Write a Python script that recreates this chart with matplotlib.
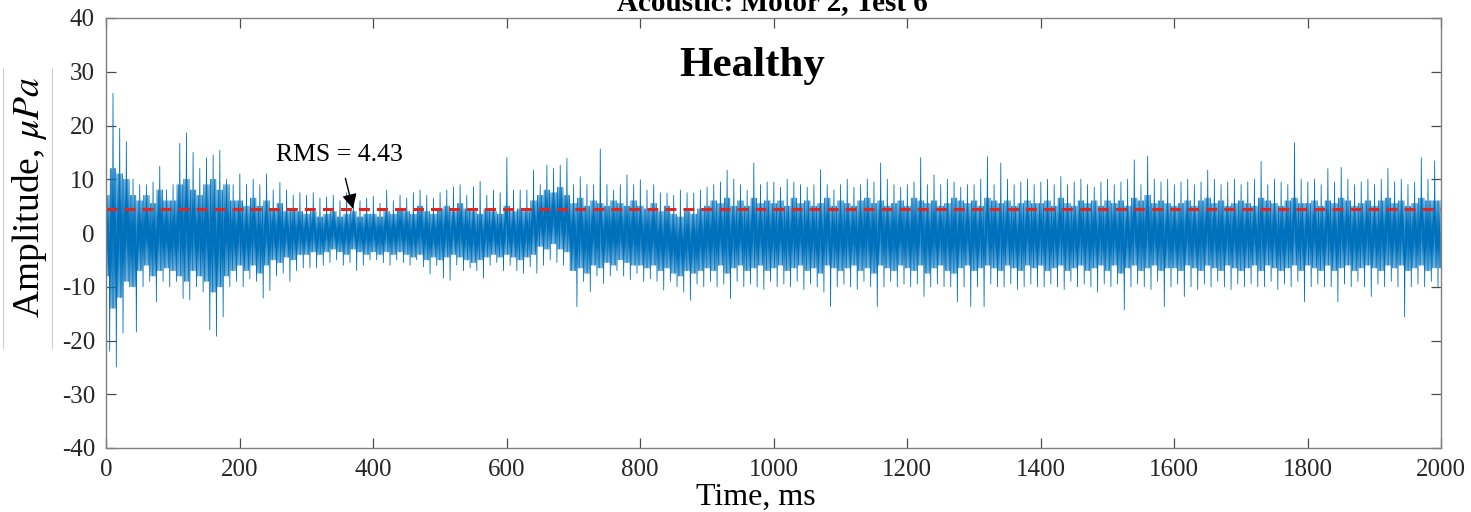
"""Acoustic signal, motor 2 test 6 (healthy) - amplitude vs time with RMS line."""
import matplotlib

matplotlib.use("Agg")
import matplotlib.pyplot as plt
from matplotlib.lines import Line2D

plt.rcParams["font.family"] = ["Liberation Serif", "DejaVu Serif"]
plt.rcParams["mathtext.fontset"] = "stix"
plt.rcParams["axes.unicode_minus"] = False

BIN_MS = 10
RMS = 4.43

# upper / lower peaks of the trace in each 10 ms bin
PEAK_HI = [
    11, 26, 19.5, 17, 10, 9, 9, 9.5, 12.4, 8,
    9, 16.7, 18.6, 15, 12, 14, 14.5, 15.4, 10, 9,
    11, 9, 10, 9, 11, 8, 9.4, 8, 7, 7.5,
    7, 7.5, 6.5, 6.7, 7, 6, 7.5, 6.5, 6, 6.5,
    6.8, 5.5, 8, 6, 7, 6.5, 7.5, 8, 7, 6.5,
    7.5, 8, 8.6, 9, 7, 8.6, 9.6, 7, 8, 7.5,
    14, 8, 8, 8, 11.7, 9, 12.6, 12, 12.6, 13.9,
    9, 10.5, 9, 9, 15.6, 9, 8, 9, 10.8, 9,
    9.9, 8, 9, 7.5, 7.4, 7, 8, 7.5, 7.4, 8,
    8.5, 9, 9.5, 11.7, 10, 9, 8, 13, 9, 9.5,
    9.5, 8.5, 10, 9.5, 9, 8.5, 9, 11.8, 9, 8,
    9, 10, 8.5, 9, 10, 9.5, 13, 10, 9, 8.5,
    9, 9.5, 14, 9, 10.8, 9, 10, 9.5, 8.5, 9,
    9, 10, 14.2, 9, 13, 10, 9, 9.5, 10, 9,
    9.5, 10, 9, 10.5, 9, 9.5, 10, 9, 8.5, 9.5,
    10, 9, 9.5, 10, 13.6, 9, 14.3, 10, 9.5, 10,
    9, 9.5, 10, 9, 9.5, 11.7, 10, 9, 9.5, 10,
    9, 9.5, 10, 13.3, 9, 10, 9.5, 9, 16.8, 10,
    9.5, 10, 9, 12, 9.5, 12.2, 10, 9, 9.5, 10,
    9, 10, 12, 9.5, 10, 9, 9.5, 14, 10, 13.4,
]
PEAK_LO = [
    -22, -24.9, -18.6, -10, -18.4, -10, -9, -12.8, -9, -10,
    -9, -12.2, -12.4, -10, -11, -18, -19.2, -15.6, -10, -9,
    -10, -8.5, -9, -12.1, -10.7, -8, -7.5, -9, -7, -6.5,
    -6.5, -6.5, -6, -5.5, -5, -6, -5.5, -7, -6, -5,
    -5, -5.5, -6, -5, -5.5, -6, -5, -6.3, -7.6, -6,
    -8.4, -8.8, -6, -7, -6.5, -7, -8.4, -6, -5.5, -7,
    -6, -7, -7.5, -6.3, -7.5, -6, -5, -5.5, -6, -7,
    -13.7, -9, -10.9, -8, -9.4, -8, -7, -8, -8.7, -7.5,
    -9, -8.5, -9, -10.6, -9, -10, -11, -12.5, -9.5, -10,
    -9, -10, -9.5, -12.2, -9, -10, -9.5, -10, -10.5, -9,
    -10, -9.5, -10, -9, -10.5, -9.5, -10, -11, -13.7, -10,
    -9.5, -10, -10.5, -9, -10, -13.7, -10, -9, -10, -9.5,
    -10, -9.5, -11.8, -10, -9.5, -10, -10, -12.8, -10, -13.7,
    -10, -13.7, -9.5, -10, -10, -9.5, -10.5, -10, -9.5, -10,
    -10, -9.5, -10, -10.5, -9, -10, -9.5, -10, -11, -9.5,
    -10, -9.5, -14.3, -10, -9.5, -10, -10.5, -9, -13.7, -10,
    -9.5, -11.8, -10, -10.5, -9.5, -10, -9, -10, -10.5, -9.5,
    -10, -9.5, -10, -10, -9, -10.5, -9.5, -10, -9, -12.8,
    -10, -9.5, -10, -10, -12.8, -9.5, -10, -9, -10, -11.8,
    -9.5, -10, -9, -10, -15.6, -10, -9.5, -10, -9, -10,
]
# edges of the dense (solid) core of the trace, per 10 ms bin
CORE_HI = [
    7, 12, 11, 10, 7, 6, 7, 5.5, 8, 6,
    6, 9, 10, 8, 7, 9, 10, 8, 9, 6,
    6, 5, 6.5, 5, 6, 4.5, 5.5, 4, 4.5, 4,
    3.5, 4, 3, 3.5, 4, 3, 3.5, 4, 3, 3.5,
    3.5, 3, 4, 3.5, 4.5, 4, 3.5, 5, 4, 3.5,
    4.5, 5, 4, 5.5, 4.5, 4, 3.5, 4.5, 4, 3.5,
    5, 4, 4.5, 4, 6, 7, 8, 7.5, 8.5, 7,
    5.5, 6.5, 5, 6, 5.5, 5, 6, 5.5, 5, 6,
    5, 4.5, 5.5, 4, 5, 3.5, 3, 4, 3.5, 4.5,
    5, 6, 5.5, 6.5, 5, 6, 5, 6.5, 5.5, 6,
    5.5, 6, 5, 6.5, 5.5, 6, 5, 5.5, 6.5, 5,
    6, 5.5, 5, 6, 6.5, 5.5, 6, 5, 5.5, 6,
    5, 6.5, 6, 5.5, 6, 5, 5.5, 6.5, 6, 5.5,
    6, 5, 6.5, 6, 5.5, 6, 5, 5.5, 6, 5.5,
    5.5, 6, 5, 6.5, 5.5, 5, 6, 5.5, 6, 5,
    6, 5.5, 6, 5, 6.5, 6, 7, 5.5, 6, 5.5,
    5, 5.5, 6, 5, 6, 6.5, 5.5, 6, 5, 5.5,
    6, 5.5, 5, 6.5, 6, 5.5, 5, 6, 6.5, 5.5,
    5.5, 6, 5, 6, 5.5, 6.5, 6, 5, 5.5, 6,
    5, 6, 6.5, 5.5, 6, 5, 5.5, 6.5, 6, 6,
]
CORE_LO = [
    -8, -14, -12, -9, -10, -7, -6, -8, -7, -6.5,
    -7, -8, -9, -7, -8, -9, -11, -10, -8, -7,
    -6, -7, -6, -7.5, -6, -5, -5.5, -4.5, -5, -4,
    -4, -3.5, -4, -3.5, -3, -3.5, -4, -3, -3.5, -4,
    -3.5, -4, -3.5, -4, -3.5, -4, -4.5, -4, -5, -4.5,
    -5, -4.5, -4, -4.5, -5, -5.5, -5, -4.5, -4, -4.5,
    -4, -4.5, -5, -4.5, -4, -2.5, -3, -2, -3, -3.5,
    -7, -6.5, -7.5, -6, -6.5, -5.5, -6, -5, -5.5, -6,
    -6, -6.5, -6, -7, -6.5, -7.5, -8, -7, -7.5, -7,
    -6.5, -7, -6, -7.5, -6.5, -6, -7, -6.5, -6, -7,
    -6.5, -6, -7, -6.5, -6, -7, -6.5, -7.5, -6, -6.5,
    -7, -6.5, -6, -7, -6.5, -7.5, -6, -6.5, -7, -6,
    -6.5, -7, -6, -7.5, -6.5, -6, -7, -7.5, -6.5, -6,
    -7, -6.5, -6, -6.5, -7, -6, -6.5, -7, -6, -6.5,
    -6, -7, -6.5, -6, -7, -6.5, -6, -7, -6.5, -6,
    -7, -6, -7.5, -6.5, -6, -7, -6.5, -6, -7, -6.5,
    -6.5, -7, -6, -6.5, -7, -6, -6.5, -7, -6, -6.5,
    -7, -6.5, -6, -7, -6, -6.5, -7, -6.5, -6, -7,
    -6, -6.5, -7, -6, -7, -6.5, -6, -7, -6.5, -6,
    -6.5, -7, -6, -6.5, -6, -7, -6.5, -6, -7, -6.5,
]

XTICKS = list(range(0, 2001, 200))
YTICKS = list(range(-40, 41, 10))

if __name__ == "__main__":
    n = len(PEAK_HI)
    t, amp = [0.0], [0.0]
    for i in range(n):
        j = min(i + 1, n - 1)
        seq = [PEAK_HI[i], CORE_LO[i], CORE_HI[i], CORE_LO[i], CORE_HI[i],
               PEAK_LO[i], CORE_HI[j], CORE_LO[j], CORE_HI[j], CORE_LO[j]]
        for k, v in enumerate(seq):
            t.append(i * BIN_MS + (k + 0.5) * BIN_MS / len(seq))
            amp.append(v)

    fig = plt.figure(figsize=(14.71, 5.12), dpi=100)
    ax = fig.add_axes([106 / 1471, 1 - 448 / 512, 1335 / 1471, 430 / 512])

    ax.plot(t, amp, color="#0072BD", linewidth=0.6)
    ax.axhline(RMS, color="#E2261E", linewidth=2.2, dashes=(3.6, 2.3))

    ax.set_xlim(0, 2000)
    ax.set_ylim(-40, 40)
    ax.set_xticks(XTICKS)
    ax.set_yticks(YTICKS)
    ax.tick_params(direction="in", length=7, width=0.9, color="#4d4d4d",
                   labelsize=18, labelcolor="#262626", pad=8,
                   top=True, right=True)
    for s in ax.spines.values():
        s.set_color("#808080")
        s.set_linewidth(1.0)

    ax.set_xlabel("Time, ms", fontsize=23, color="black")
    ax.xaxis.set_label_coords(0.487, -0.082)

    fig.text(30 / 1471, 1 - 197 / 512, r"Amplitude, $\mu Pa$", rotation=90,
             ha="center", va="center", fontsize=27)
    # leftover frame of the pasted label box
    for xp in (3, 52):
        fig.add_artist(Line2D([xp / 1471] * 2, [1 - 68 / 512, 1 - 348 / 512],
                              color="#cfcfcf", linewidth=0.8))

    # title sits partly above the top edge, as in the source figure
    fig.text(772 / 1471, 1 - 10 / 512, "Acoustic: Motor 2, Test 6",
             ha="center", va="baseline", fontsize=21, fontweight="bold")

    ax.text((752 - 106) / 1335 * 2000, 31, "Healthy",
            ha="center", va="center", fontsize=31, fontweight="bold")

    ax.annotate("RMS = 4.43", xy=(370, 4.5), xytext=(350, 14.5),
                ha="center", va="center", fontsize=18.5,
                arrowprops=dict(arrowstyle="-|>", color="black", lw=1.0,
                                mutation_scale=22, shrinkA=7, shrinkB=0))

    fig.savefig("out.png", dpi=100)
